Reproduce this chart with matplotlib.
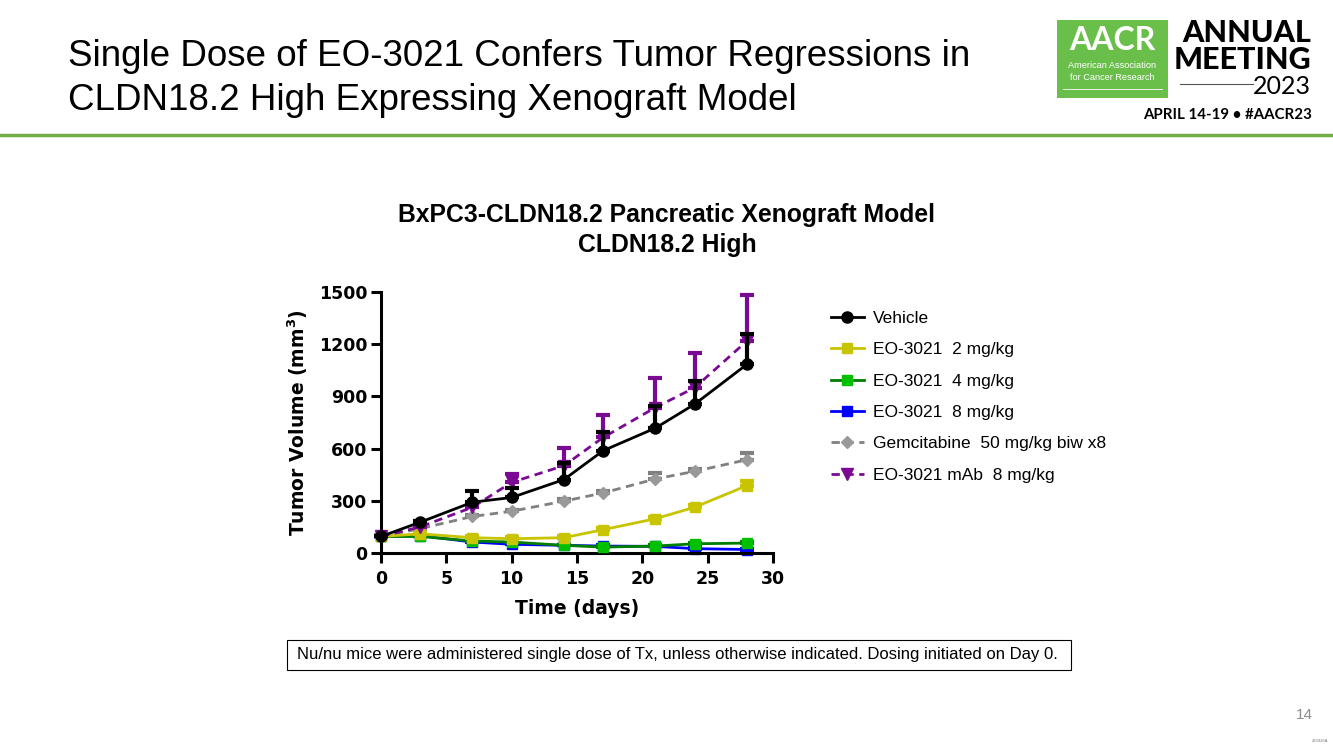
import matplotlib
matplotlib.use("Agg")
import matplotlib.pyplot as plt
from matplotlib.patches import Rectangle
from matplotlib.lines import Line2D
import numpy as np

W, H = 1333, 749

days = [0, 3, 7, 10, 14, 17, 21, 24, 28]

vehicle = [95, 177, 292, 319, 422, 588, 718, 855, 1084]
vehicle_err = [0, 6, 63, 55, 95, 110, 127, 133, 176]

eo_2 = [95, 110, 88, 82, 88, 134, 197, 263, 387]
eo_2_err = [0, 6, 8, 8, 8, 10, 10, 12, 29]

eo_4 = [95, 95, 69, 63, 44, 34, 40, 53, 57]
eo_4_err = [0, 5, 5, 5, 4, 4, 4, 5, 6]

eo_8 = [95, 100, 63, 50, 44, 40, 38, 25, 20]
eo_8_err = [0, 5, 5, 5, 4, 4, 4, 4, 4]

gem = [95, 140, 210, 240, 298, 345, 426, 469, 536]
gem_err = [0, 6, 8, 8, 10, 10, 32, 12, 36]

mab = [95, 150, 263, 406, 502, 664, 836, 950, 1218]
mab_err = [0, 10, 20, 48, 101, 130, 172, 197, 263]

labels = ["Vehicle", "EO-3021  2 mg/kg", "EO-3021  4 mg/kg", "EO-3021  8 mg/kg",
          "Gemcitabine  50 mg/kg biw x8", "EO-3021 mAb  8 mg/kg"]

x_ticks = [0, 5, 10, 15, 20, 25, 30]
y_ticks = [0, 300, 600, 900, 1200, 1500]

fig = plt.figure(figsize=(W / 100, H / 100), dpi=100)
fig.patch.set_facecolor("white")


def P(x, y):
    return (x / W, 1 - y / H)


SANS = ["Liberation Sans", "DejaVu Sans"]
LOGO = ["Lato", "DejaVu Sans"]

# ---- Slide title
fig.text(*P(68, 56), "Single Dose of EO-3021 Confers Tumor Regressions in",
         fontsize=26.5, family=SANS, va="center", ha="left", color="black")
fig.text(*P(68, 100), "CLDN18.2 High Expressing Xenograft Model",
         fontsize=26.5, family=SANS, va="center", ha="left", color="black")

# header rule
fig.add_artist(Line2D([0, 1], [1 - 135 / H] * 2, color="#70ad47", lw=2.5,
                      transform=fig.transFigure))

# ---- AACR logo
green = "#6abf4b"
fig.add_artist(Rectangle(P(1057, 98), 111 / W, 78 / H, transform=fig.transFigure,
                         facecolor=green, edgecolor="none"))
fig.text(*P(1112, 41), "AACR", fontsize=23, family=LOGO,
         weight="bold", color="white", ha="center", va="center")
fig.text(*P(1112, 66), "American Association", fontsize=6.6, family=SANS,
         color="white", ha="center", va="center")
fig.text(*P(1112, 77), "for Cancer Research", fontsize=6.6, family=SANS,
         color="white", ha="center", va="center")
fig.add_artist(Line2D([1063 / W, 1162 / W], [1 - 89 / H] * 2, color="white", lw=0.6,
                      transform=fig.transFigure))
fig.text(*P(1311, 33), "ANNUAL", fontsize=22, family=LOGO,
         weight="black", color="black", ha="right", va="center")
fig.text(*P(1311, 60), "MEETING", fontsize=22, family=LOGO,
         weight="black", color="black", ha="right", va="center")
fig.text(*P(1311, 86), "2023", fontsize=18, family=LOGO,
         weight="normal", color="black", ha="right", va="center")
fig.add_artist(Line2D([1180 / W, 1253 / W], [1 - 84 / H] * 2, color="#555555", lw=0.8,
                      transform=fig.transFigure))
fig.text(*P(1312, 115), "APRIL 14-19 \u2022 #AACR23", fontsize=10.8,
         family=LOGO, weight="bold", color="black",
         ha="right", va="center")

# ---- chart title
fig.text(*P(667, 215), "BxPC3-CLDN18.2 Pancreatic Xenograft Model", fontsize=17.8,
         family=SANS, weight="bold", ha="center", va="center")
fig.text(*P(667, 245), "CLDN18.2 High", fontsize=17.8,
         family=SANS, weight="bold", ha="center", va="center")

# ---- axes
x0, x1, yb, yt = 381, 773, 553, 292
ax = fig.add_axes([x0 / W, 1 - yb / H, (x1 - x0) / W, (yb - yt) / H])
ax.set_xlim(0, 30)
ax.set_ylim(0, 1500)
for s in ["top", "right"]:
    ax.spines[s].set_visible(False)
for s in ["left", "bottom"]:
    ax.spines[s].set_linewidth(2.2)
ax.set_xticks(x_ticks)
ax.set_yticks(y_ticks)
ax.tick_params(width=2.2, length=7, labelsize=12.5)
ax.tick_params(axis="x", pad=5)
ax.tick_params(axis="y", pad=3)
for lab in ax.get_xticklabels() + ax.get_yticklabels():
    lab.set_fontweight("bold")
    lab.set_family("DejaVu Sans")
ax.set_xlabel("Time (days)", fontsize=13.5, weight="bold", family="DejaVu Sans", labelpad=8)
ax.set_ylabel("Tumor Volume (mm$^\\mathbf{3}$)", fontsize=13.5, weight="bold",
              family="DejaVu Sans", labelpad=6)


def series(y, err, color, mcolor, marker, ls, ms, label, z, lw=2.0, elw=3.0):
    lo = np.zeros(len(err))
    ax.errorbar(days, y, yerr=[lo, err], fmt="none", ecolor=color, elinewidth=elw,
                capsize=5, capthick=elw, zorder=z, clip_on=False)
    ln, = ax.plot(days, y, color=color, ls=ls, lw=lw, marker=marker, ms=ms,
                  markerfacecolor=mcolor, markeredgecolor=mcolor, zorder=z + 0.5,
                  clip_on=False, label=label)
    return ln


h_blue = series(eo_8, eo_8_err, "#0000ff", "#0000ff", "s", "-", 7.5, labels[3], 2)
h_green = series(eo_4, eo_4_err, "#007f00", "#00c000", "s", "-", 7.5, labels[2], 3)
h_gem = series(gem, gem_err, "#808080", "#999999", "D", (0, (3, 2)), 6, labels[4], 4)
h_yel = series(eo_2, eo_2_err, "#c8c400", "#c8c400", "s", "-", 7.5, labels[1], 5)
h_mab = series(mab, mab_err, "#7a0a94", "#7a0a94", "v", (0, (3, 2)), 8, labels[5], 6)
h_veh = series(vehicle, vehicle_err, "black", "black", "o", "-", 8, labels[0], 7)

leg = fig.legend([h_veh, h_yel, h_green, h_blue, h_gem, h_mab], labels,
                 loc="upper left", bbox_to_anchor=(824 / W, 1 - 304 / H),
                 frameon=False, prop={"family": SANS, "size": 12.5},
                 handlelength=1.9, handletextpad=0.5, labelspacing=0.93,
                 borderaxespad=0)

# ---- footnote box
fig.add_artist(Rectangle(P(287, 670), (1071 - 287) / W, 30 / H,
                         transform=fig.transFigure, facecolor="white",
                         edgecolor="black", lw=0.8))
fig.text(*P(297, 655),
         "Nu/nu mice were administered single dose of Tx, unless otherwise indicated. Dosing initiated on Day 0.",
         fontsize=12, family=SANS, va="center", ha="left")

# page number
fig.text(*P(1313, 715), "14", fontsize=11, family=SANS, color="#8c8c8c",
         ha="right", va="center")
fig.text(*P(1328, 741), "230926A", fontsize=3, family=SANS, color="#777777",
         ha="right", va="center")

fig.savefig("out.png", dpi=100)
